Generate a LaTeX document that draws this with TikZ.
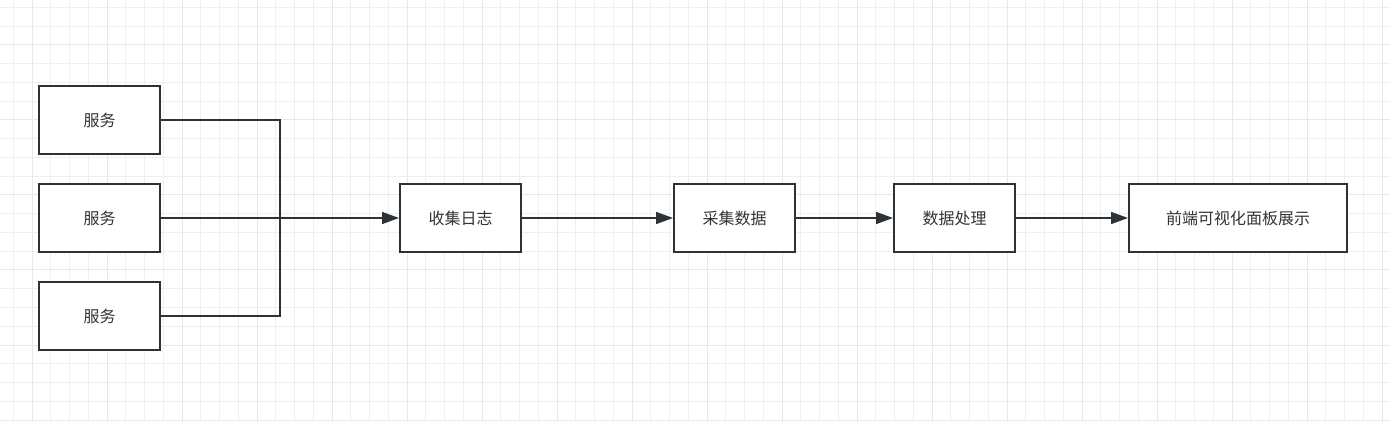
\documentclass[tikz,border=0pt]{standalone}
\usepackage{fontspec}
\newfontfamily\cjk{Noto Sans CJK SC}
\usetikzlibrary{arrows.meta}
\definecolor{linec}{HTML}{2D3237}
\definecolor{textc}{HTML}{333333}
\definecolor{minorc}{HTML}{EFEFEF}
\definecolor{majorc}{HTML}{E8E8E8}
\begin{document}
\begin{tikzpicture}[x=1pt,y=-1pt,
  box/.style={draw=linec,line width=2pt,fill=white,minimum height=68pt,
    inner sep=0pt,font=\cjk\fontsize{16}{19}\selectfont,text=textc},
  conn/.style={draw=linec,line width=1.6pt},
  tip/.style={-{Triangle[length=17pt,width=12pt]}}]
\useasboundingbox (0,0) rectangle (1390,422);
\fill[white] (0,0) rectangle (1390,422);
% background grid
\foreach \i in {0,...,73} {
  \draw[minorc,line width=1pt] ({13.25+18.75*\i},0) -- ({13.25+18.75*\i},422);
}
\foreach \i in {0,...,22} {
  \draw[minorc,line width=1pt] (0,{7.5+18.75*\i}) -- (1390,{7.5+18.75*\i});
}
\foreach \i in {0,...,18} {
  \draw[majorc,line width=1pt] ({32+75*\i},0) -- ({32+75*\i},422);
}
\foreach \i in {0,...,5} {
  \draw[majorc,line width=1pt] (0,{45+75*\i}) -- (1390,{45+75*\i});
}
% nodes
\node[box,minimum width=121pt] (s1) at (99.5,120) {服务};
\node[box,minimum width=121pt] (s2) at (99.5,218) {服务};
\node[box,minimum width=121pt] (s3) at (99.5,316) {服务};
\node[box,minimum width=121pt] (collect) at (460.5,218) {收集日志};
\node[box,minimum width=121pt] (gather) at (734.5,218) {采集数据};
\node[box,minimum width=121pt] (process) at (954.5,218) {数据处理};
\node[box,minimum width=218pt] (show) at (1238,218) {前端可视化面板展示};
\coordinate (j) at (280,218);
% connectors
\draw[conn] (s1.east) -| (j);
\draw[conn] (s3.east) -| (j);
\draw[conn,tip] (s2.east) -- (collect.west);
\draw[conn,tip] (collect.east) -- (gather.west);
\draw[conn,tip] (gather.east) -- (process.west);
\draw[conn,tip] (process.east) -- (show.west);
\end{tikzpicture}
\end{document}
